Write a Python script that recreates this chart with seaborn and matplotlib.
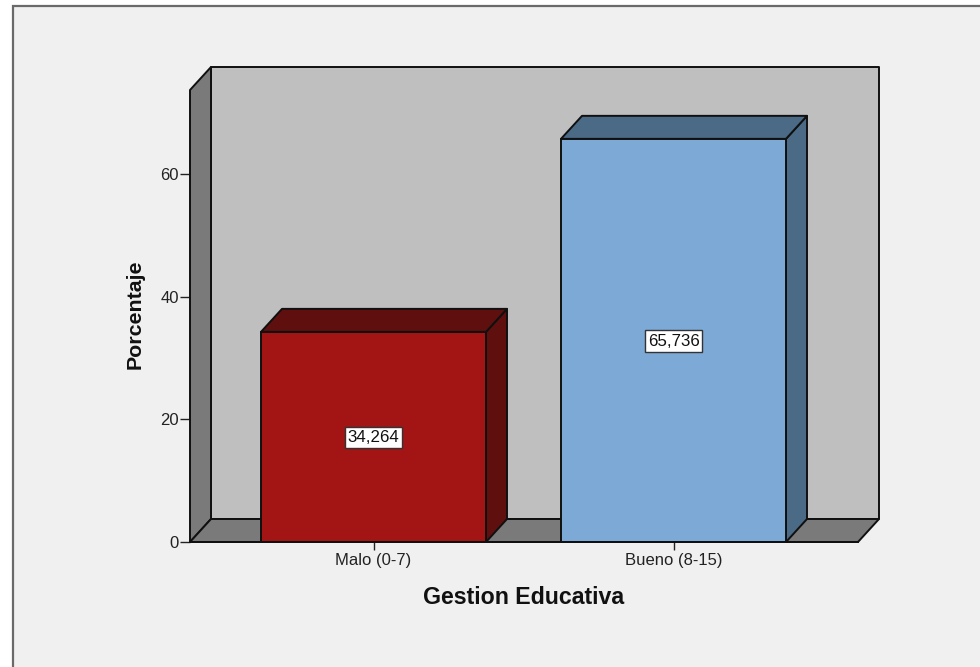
import matplotlib
matplotlib.use("Agg")
import matplotlib.pyplot as plt
from matplotlib.patches import Polygon, Rectangle
import seaborn as sns

categories = ["Malo (0-7)", "Bueno (8-15)"]
values = [34.264, 65.736]
value_labels = ["34,264", "65,736"]
y_ticks = [0, 20, 40, 60]
x_title = "Gestion Educativa"
y_title = "Porcentaje"

front_colors = ["#A31515", "#7CA9D6"]
dark_colors = ["#600F0F", "#4B6A85"]
WALL = "#7A7A7A"
BACK = "#BFBFBF"
BG = "#F0F0F0"
EDGE = "#101010"

W, H = 980, 667
L, R, T, B = 190, 858, 90, 542
XLIM = (-0.6117, 1.615)
YLIM = (0, 73.7)
DX = 0.07    # depth of the 3D effect, data units
DY = 3.75

sns.set_theme(style="white")
plt.rcParams["font.family"] = ["Liberation Sans", "DejaVu Sans"]

fig = plt.figure(figsize=(W / 100, H / 100), dpi=100, facecolor="white")
fig.add_artist(Rectangle((12.5 / W, -0.05), 1.1, 1.05 - 5.5 / H, transform=fig.transFigure,
                         facecolor=BG, edgecolor="#6A6A6A", linewidth=1.6, zorder=-5))
ax = fig.add_axes([L / W, 1 - B / H, (R - L) / W, (B - T) / H])
ax.patch.set_alpha(0)

sns.barplot(x=categories, y=values, hue=categories, palette=front_colors, width=0.75,
            dodge=False, legend=False, edgecolor=EDGE, linewidth=1.4, saturation=1, ax=ax, zorder=4)
ax.set_xlim(*XLIM)
ax.set_ylim(*YLIM)


def face(points, color, z):
    ax.add_patch(Polygon(points, closed=True, facecolor=color, edgecolor=EDGE,
                         linewidth=1.4, joinstyle="round", clip_on=False, zorder=z))


x0, x1 = XLIM
y0, y1 = YLIM
face([(x0 + DX, y0 + DY), (x1 + DX, y0 + DY), (x1 + DX, y1 + DY), (x0 + DX, y1 + DY)], BACK, 1)
face([(x0, y0), (x0 + DX, y0 + DY), (x0 + DX, y1 + DY), (x0, y1)], WALL, 2)
face([(x0, y0), (x1, y0), (x1 + DX, y0 + DY), (x0 + DX, y0 + DY)], WALL, 2)

for bar, dark, label in zip(ax.patches[:len(categories)], dark_colors, value_labels):
    bar.set_clip_on(False)
    a, b = bar.get_x(), bar.get_x() + bar.get_width()
    h = bar.get_height()
    face([(b, 0), (b + DX, DY), (b + DX, h + DY), (b, h)], dark, 3)
    face([(a, h), (b, h), (b + DX, h + DY), (a + DX, h + DY)], dark, 3)
    ax.text((a + b) / 2, h / 2 - 0.1, label, ha="center", va="center", fontsize=12.2, color="#111111", zorder=6,
            bbox=dict(boxstyle="square,pad=0.18", facecolor="white", edgecolor="#333333", linewidth=1))

for s in ("top", "left", "right"):
    ax.spines[s].set_visible(False)
ax.spines["bottom"].set_visible(True)
ax.spines["bottom"].set_color(EDGE)
ax.spines["bottom"].set_linewidth(1.4)
ax.spines["bottom"].set_zorder(5)

ax.set_yticks(y_ticks)
ax.set_xticks(range(len(categories)), categories)
ax.tick_params(axis="x", which="major", bottom=True, length=6, width=1, color="#222222",
               labelsize=12, labelcolor="#222222", pad=2)
ax.tick_params(axis="y", which="major", left=True, length=7, width=1, color="#222222",
               labelsize=12, labelcolor="#222222", pad=1)

ax.set_xlabel(x_title, fontsize=16.7, fontweight="bold", color="#111111", va="center")
ax.set_ylabel(y_title, fontsize=15.4, fontweight="bold", color="#111111", va="center")
ax.xaxis.set_label_coords((524 - L) / (R - L), (B - 597) / (B - T))
ax.yaxis.set_label_coords((135 - L) / (R - L), (B - 314) / (B - T))

fig.savefig("out.png", dpi=100, facecolor="white")
